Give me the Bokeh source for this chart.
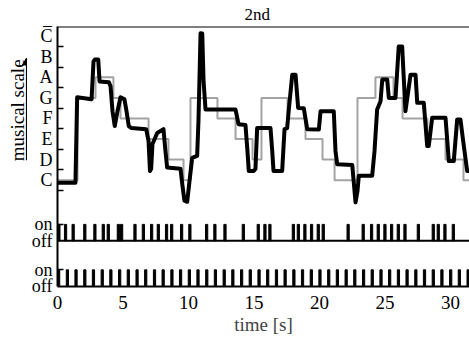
import math
from bokeh.plotting import figure
from bokeh.layouts import row
from bokeh.models import FixedTicker, Span, Range1d
from bokeh.core.properties import value
from bokeh.embed import file_html
from bokeh.resources import INLINE

# ---------------- data ----------------
note_names = ["C", "D", "E", "F", "G", "A", "B", "C\u0305"]
note_values = [0, 1, 2, 3, 4, 5, 6, 7]

# target melody (grey staircase): start time [s] and note index
score_starts = [0, 1.53, 2.90, 4.27, 4.81, 6.95, 8.47, 9.62, 10.15, 12.21, 13.59, 14.89,
                15.57, 17.56, 18.93, 20.23, 21.15, 22.90, 24.27, 25.65, 26.34, 28.24, 29.62, 30.99]
score_notes = [0, 4, 5, 4, 3, 2, 1, 0, 4, 3, 2, 1, 4, 3, 2, 1, 0, 4, 5, 4, 3, 2, 1, 0]
score_end = 31.5

# sung pitch trace (black)
trace_t = [0.00, 1.37, 1.50, 2.60, 2.75, 2.85, 3.11, 3.21, 3.92, 4.05, 4.20, 4.37, 4.58, 4.81,
           5.11, 5.27, 5.44, 5.65, 6.77, 6.95, 7.06, 7.15, 7.25, 7.61, 8.09, 8.24, 8.37, 9.39,
           9.54, 9.69, 9.90, 10.08, 10.28, 10.66, 10.76, 10.92, 11.05, 11.15, 11.30, 13.59, 13.82,
           14.35, 14.50, 14.60, 14.98, 15.11, 15.24, 16.26, 16.39, 16.49, 17.15, 17.33, 17.53,
           17.66, 17.92, 18.17, 18.37, 18.80, 19.06, 19.95, 20.08, 21.09, 21.22, 21.35, 22.50,
           22.75, 22.90, 23.00, 24.02, 24.20, 24.40, 24.66, 24.79, 25.17, 25.29, 25.80, 26.05,
           26.31, 26.56, 26.95, 27.33, 27.46, 27.96, 28.22, 28.34, 28.60, 29.62, 29.87, 30.25,
           30.51, 30.76, 30.92, 31.27, 31.45]
trace_n = [-0.13, -0.13, 4.03, 3.93, 5.77, 5.86, 5.86, 4.80, 4.76, 4.56, 3.35, 2.63, 3.35, 4.03,
           3.93, 3.35, 2.63, 2.53, 2.48, 1.90, 0.45, 0.55, 1.76, 2.29, 2.48, 1.42, 0.61, 0.55,
           -0.27, -1.00, -1.05, -0.03, 1.08, 1.18, 2.87, 7.14, 7.13, 4.81, 3.44, 3.43, 2.72,
           2.68, 1.42, 0.45, 0.45, 0.55, 2.53, 2.53, 1.42, 0.45, 0.45, 2.48, 2.53,
           3.45, 5.13, 5.13, 3.51, 3.50, 2.48, 2.46, 3.35, 3.35, 1.42, 0.77, 0.74,
           -1.08, -0.52, 0.21, 0.21, 1.42, 3.44, 3.84, 4.89, 4.89, 4.00, 4.00, 6.50,
           6.50, 3.35, 5.13, 5.13, 3.76, 3.76, 1.66, 1.66, 3.03, 3.03, 0.93, 0.93,
           2.95, 2.95, 2.14, 0.45, 0.45]

# upper pulse train (on/off events)
onset_times = [0.02, 0.53, 1.11, 2.00, 2.77, 3.41, 3.79, 4.56, 4.81, 5.83, 6.47, 7.10, 7.61,
               8.24, 8.63, 9.39, 10.02, 11.30, 11.93, 12.70, 14.10, 15.24, 15.75, 16.13, 17.92,
               18.30, 18.80, 19.31, 19.82, 20.20, 22.10, 23.25, 23.89, 24.40, 24.91, 25.42,
               25.93, 26.44, 27.46, 28.60, 28.98, 29.49, 30.13]
# lower pulse train (metronome)
beat_times = [0.00, 0.67, 1.33, 2.00, 2.66, 3.33, 3.99, 4.66, 5.32, 5.99, 6.65, 7.32, 7.98,
              8.65, 9.31, 9.98, 10.64, 11.31, 11.97, 12.64, 13.30, 13.97, 14.63, 15.30, 15.96,
              16.63, 17.29, 17.96, 18.62, 19.29, 19.95, 20.62, 21.28, 21.95, 22.61, 23.28, 23.94,
              24.61, 25.27, 25.94, 26.60, 27.27, 27.93, 28.60, 29.26, 29.93, 30.59, 31.26]
x_ticks = [0, 5, 10, 15, 20, 25, 30]

# ---------------- layout constants ----------------
Y_TOP = 7.47
Y_BOT = -5.17
P1_ON, P1_OFF = -2.15, -2.95
P2_ON, P2_OFF = -4.36, -5.13
PULSE_W = 0.17
FONT = "Liberation Serif"
SIDE_W = 27

p = figure(width=469 - SIDE_W, height=338, output_backend="svg", toolbar_location=None,
           x_range=Range1d(0, 31.45), y_range=Range1d(Y_BOT, Y_TOP),
           min_border_left=57 - SIDE_W, min_border_right=0, min_border_top=25,
           min_border_bottom=52)
p.outline_line_color = None
p.grid.visible = False

p.title.text = "2nd"
p.title.align = "left"
p.title.offset = 187
p.title.standoff = 5
p.title.text_font = FONT
p.title.text_font_size = "17px"
p.title.text_font_style = "normal"
p.title.text_color = "black"

# grey target staircase
p.step(score_starts + [score_end], score_notes + [score_notes[-1]], mode="after",
       line_color="#a3a3a3", line_width=2)
# black sung trace
p.line(trace_t, trace_n, line_color="black", line_width=4, line_join="round")

# pulse trains
p.quad(left=onset_times, right=[t + PULSE_W for t in onset_times],
       bottom=P1_OFF, top=P1_ON, fill_color="black", line_color="black", line_width=1)
p.quad(left=beat_times, right=[t + PULSE_W for t in beat_times],
       bottom=P2_OFF, top=P2_ON, fill_color="black", line_color="black", line_width=1)
p.add_layout(Span(location=P1_OFF, dimension="width", line_color="black", line_width=2))
p.add_layout(Span(location=Y_TOP, dimension="width", line_color="black", line_width=2))

# y axis
yax = p.yaxis[0]
major = note_values + [P1_ON, P1_OFF, P2_ON, P2_OFF]
minor = [v + 0.5 for v in note_values[:-1]] + [-0.5, P1_ON, P2_ON]
yax.ticker = FixedTicker(ticks=major, minor_ticks=minor)
ov = {v: n for v, n in zip(note_values, note_names)}
ov.update({P1_ON: "on", P1_OFF: "off", P2_ON: "on", P2_OFF: "off"})
yax.major_label_overrides = ov
yax.major_tick_line_color = None
yax.major_tick_in = 0
yax.major_tick_out = 0
yax.minor_tick_in = 6
yax.minor_tick_out = 0
yax.minor_tick_line_width = 1.5
yax.axis_line_width = 2
yax.major_label_standoff = 5
yax.major_label_text_font = FONT
yax.major_label_text_font_size = "18px"
yax.major_label_text_color = "black"

# x axis
xax = p.xaxis[0]
xax.ticker = FixedTicker(ticks=x_ticks, minor_ticks=[])
xax.major_tick_in = 0
xax.major_tick_out = 0
xax.axis_line_width = 2
xax.major_label_standoff = 9
xax.major_label_text_font = FONT
xax.major_label_text_font_size = "19px"
xax.major_label_text_color = "black"
xax.axis_label = "time [s]"
xax.axis_label_text_font = FONT
xax.axis_label_text_font_size = "19px"
xax.axis_label_text_font_style = "normal"
xax.axis_label_standoff = 2

# side strip with the rotated "musical scale" label and its arrow (pixel-like coordinates)
side = figure(width=SIDE_W, height=338, output_backend="svg", toolbar_location=None,
              x_range=Range1d(0, SIDE_W), y_range=Range1d(338, 0),
              x_axis_type=None, y_axis_type=None,
              min_border_left=0, min_border_right=0, min_border_top=0, min_border_bottom=0)
side.outline_line_color = None
side.grid.visible = False
side.text(x=[17], y=[109], text=["musical scale"], angle=math.pi / 2,
          text_align="center", text_baseline="middle", text_font=value(FONT),
          text_font_size="19px", text_color="black")
side.segment(x0=[26], y0=[174], x1=[26], y1=[50], line_color="black", line_width=1.2)
side.scatter(x=[26], y=[47], marker="triangle", size=8, fill_color="black",
             line_color="black")

layout = row(side, p, spacing=0)
open("out.html", "w").write(file_html(layout, INLINE))
